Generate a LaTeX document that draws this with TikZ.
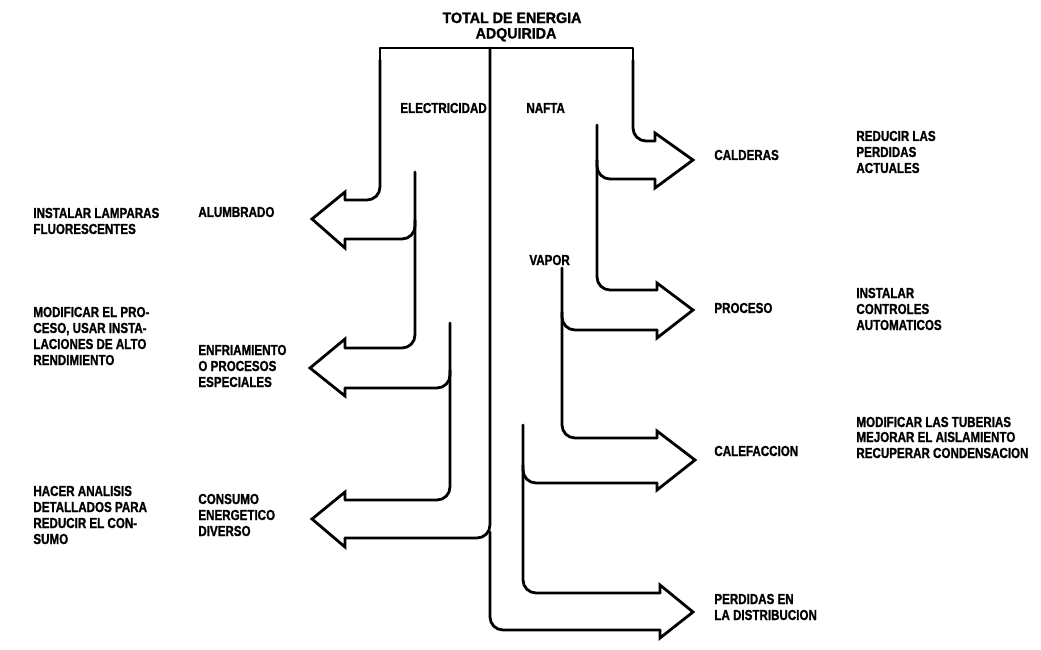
\documentclass[tikz,border=0pt]{standalone}
\usepackage{fontspec}
\newfontfamily\labfont{Liberation Sans}[FakeStretch=0.8,FakeBold=1.2]
\newfontfamily\headfont{Liberation Sans}[FakeStretch=0.95,FakeBold=1.2]
\begin{document}
\begin{tikzpicture}[x=1pt,y=-1pt, line width=2.8pt, line join=round, line cap=round,
  lab/.style={font=\labfont\bfseries\fontsize{14.5}{16}\selectfont, inner sep=0pt, anchor=west, align=left},
  hd/.style={font=\headfont\bfseries\fontsize{15}{15.5}\selectfont, inner sep=0pt, align=center},
  band/.style={rounded corners=13pt},
  head/.style={line join=miter}]
\fill[white] (0,0) rectangle (1041,649);
\useasboundingbox (0,0) rectangle (1041,649);

% ---- total / top
\draw (380,60) -- (380,48) -- (633,48) -- (633,60);
\draw[band] (345,200) -- (380,200) -- (380,60);
\draw[band] (633,60) -- (633,141) -- (655,141);

% ---- electricity side (left)
\draw[band] (415,172) -- (415,348) -- (345,348);
\draw[band] (415,220) -- (415,239) -- (345,239);
\draw[band] (450,323) -- (450,500) -- (345,500);
\draw[band] (450,370) -- (450,388) -- (345,388);
\draw[band] (490,48) -- (490,538) -- (345,538);

% ---- nafta side (right)
\draw[band] (597,125) -- (597,290) -- (657,290);
\draw[band] (597,160) -- (597,179) -- (655,179);
\draw[band] (562,268) -- (562,438) -- (657,438);
\draw[band] (562,312) -- (562,330) -- (657,330);
\draw[band] (523,425) -- (523,593) -- (660,593);
\draw[band] (523,465) -- (523,483) -- (657,483);
\draw[band] (490,532) -- (490,630) -- (660,630);

% ---- arrowheads left
\draw[head] (345,200) -- (345,192) -- (312,219) -- (345,248) -- (345,239);
\draw[head] (345,348) -- (345,339) -- (310,368) -- (345,396) -- (345,388);
\draw[head] (345,500) -- (345,492) -- (312,519) -- (345,547) -- (345,538);
% ---- arrowheads right
\draw[head] (655,141) -- (655,133) -- (693,160) -- (655,188) -- (655,179);
\draw[head] (657,290) -- (657,283) -- (693,310) -- (657,338) -- (657,330);
\draw[head] (657,438) -- (657,431) -- (695,460) -- (657,490) -- (657,483);
\draw[head] (660,593) -- (660,585) -- (693,612) -- (660,638) -- (660,630);

% ---- texts
\node[hd] (total) at (512,27) {TOTAL DE ENERGIA\\ \hspace*{8pt}ADQUIRIDA};
\node[lab] (elec) at (399,108) {ELECTRICIDAD};
\node[lab] (nafta) at (525,108) {NAFTA};
\node[lab] (vapor) at (528,260) {VAPOR};

\node[lab] (alum) at (197,212) {ALUMBRADO};
\node[lab] (enfr) at (197,366) {ENFRIAMIENTO\\O PROCESOS\\ESPECIALES};
\node[lab] (cons) at (197,515) {CONSUMO\\ENERGETICO\\DIVERSO};

\node[lab] (m1) at (32,221) {INSTALAR LAMPARAS\\FLUORESCENTES};
\node[lab] (m2) at (32,336) {MODIFICAR EL PRO-\\CESO, USAR INSTA-\\LACIONES DE ALTO\\RENDIMIENTO};
\node[lab] (m3) at (32,515) {HACER ANALISIS\\DETALLADOS PARA\\REDUCIR EL CON-\\SUMO};

\node[lab] (cald) at (713,155) {CALDERAS};
\node[lab] (proc) at (713,308) {PROCESO};
\node[lab] (calef) at (713,451) {CALEFACCION};
\node[lab] (perd) at (713,607) {PERDIDAS EN\\LA DISTRIBUCION};

\node[lab] (r1) at (855,152) {REDUCIR LAS\\PERDIDAS\\ACTUALES};
\node[lab] (r2) at (855,309) {INSTALAR\\CONTROLES\\AUTOMATICOS};
\node[lab] (r3) at (855,422) {MODIFICAR LAS TUBERIAS};
\node[lab] (r4) at (855,445) {MEJORAR EL AISLAMIENTO\\RECUPERAR CONDENSACION};
\end{tikzpicture}
\end{document}
